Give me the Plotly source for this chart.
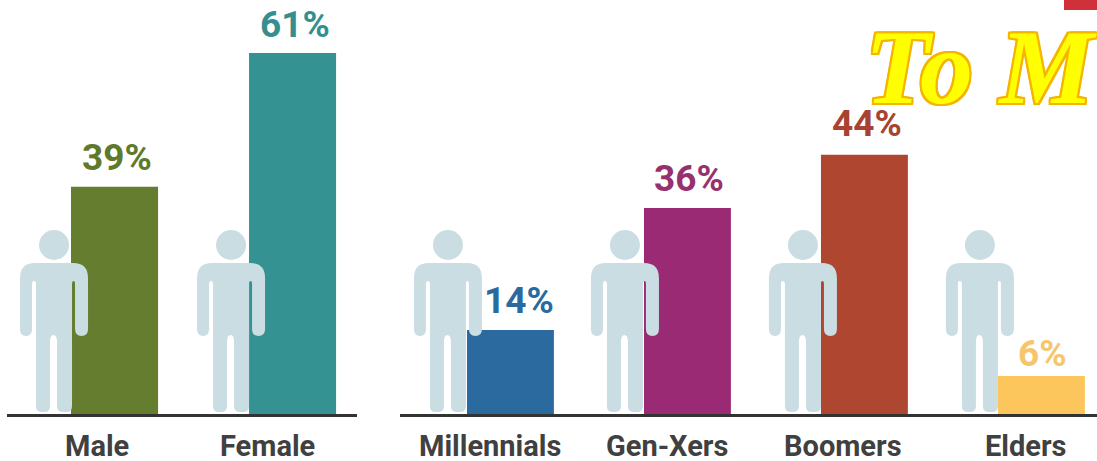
import plotly.graph_objects as go

W, H = 1097, 461
gender_cats = ["Male", "Female"]
gender_labels = ["39%", "61%"]
gender_heights = [38.4, 61.0]
gender_colors = ["#647d2f", "#359292"]
gender_label_colors = ["#5f7a2c", "#358f8f"]

age_cats = ["Millennials", "Gen-Xers", "Boomers", "Elders"]
age_labels = ["14%", "36%", "44%", "6%"]
age_heights = [14.2, 34.8, 43.8, 6.4]
age_colors = ["#2a6a9e", "#9b2a75", "#ae4630", "#fcc65c"]
age_label_colors = ["#2a6a9e", "#97306f", "#a8432f", "#f6c66c"]

cat_shift_gender = [-18, -25]
cat_shift_age = [-20, -20, -21, -15]
pct_shift_gender = [2.5, 2.5]
pct_shift_age = [8.5, 1.5, 2.5, 1]
pct_lift_gender = [7, 6]
pct_lift_age = [7, 7, 9, 0]
icon_shift_gender = [-60.5, -61.5]
icon_shift_age = [-62.5, -62.5, -61.5, -61.5]

FONT = "Roboto, sans-serif"
ICON = "#c9dde3"
TEXT = "#404040"
BASE = 414
PX_PER_UNIT = 5.918

fig = go.Figure()
fig.add_trace(go.Bar(x=gender_cats, y=gender_heights, marker_color=gender_colors,
                     marker_line_width=0, width=0.489, xaxis="x", yaxis="y"))
fig.add_trace(go.Bar(x=age_cats, y=age_heights, marker_color=age_colors,
                     marker_line_width=0, width=0.491, xaxis="x2", yaxis="y2"))

annotations = []
shapes = []

# person pictogram: pixels relative to (head axis, baseline), y up
BODY = ("M -34 136 Q -34 151 -19 151 L 19 151 Q 34 151 34 136 L 34 85 Q 34 78 27.5 78 Q 21 78 21 85 "
        "L 21 130 Q 21 133 19.5 133 Q 18 133 18 130 L 18 8 Q 18 2 12 2 L 9 2 Q 3 2 3 8 L 3 72 "
        "Q 3 79 -0.5 79 Q -4 79 -4 72 L -4 8 Q -4 2 -10 2 L -12 2 Q -18 2 -18 8 L -18 130 "
        "Q -18 133 -20 133 Q -22 133 -22 130 L -22 85 Q -22 78 -28 78 Q -34 78 -34 85 Z")


def shift_path(path, dx):
    out, is_x = [], True
    for t in path.split():
        if t.isalpha():
            out.append(t)
            is_x = True
        else:
            out.append(str(float(t) + dx) if is_x else t)
            is_x = not is_x
    return " ".join(out)


def add_group(cats, heights, labels, label_colors, cat_shift, pct_shift, pct_lift, icon_shift, xr, yr):
    for i, c in enumerate(cats):
        annotations.append(dict(x=c, y=heights[i], xref=xr, yref=yr, text=labels[i], showarrow=False,
                                yanchor="bottom", xshift=pct_shift[i], yshift=pct_lift[i], borderpad=0,
                                font=dict(family=FONT, size=37, color=label_colors[i], weight="bold")))
        annotations.append(dict(x=c, y=0, xref=xr, yref=yr, text=c, showarrow=False, yanchor="top",
                                xshift=cat_shift[i], yshift=-14, borderpad=0, height=33, valign="top",
                                font=dict(family=FONT, size=29, color=TEXT, weight="bold")))
        common = dict(xref=xr, yref=yr, xsizemode="pixel", ysizemode="pixel",
                      xanchor=c, yanchor=0, fillcolor=ICON, line_width=0, layer="above")
        dx = icon_shift[i]
        shapes.append(dict(type="path", path=shift_path(BODY, dx), **common))
        shapes.append(dict(type="circle", x0=dx - 15, x1=dx + 15, y0=154, y1=184, **common))


add_group(gender_cats, gender_heights, gender_labels, gender_label_colors,
          cat_shift_gender, pct_shift_gender, pct_lift_gender, icon_shift_gender, "x", "y")
add_group(age_cats, age_heights, age_labels, age_label_colors,
          cat_shift_age, pct_shift_age, pct_lift_age, icon_shift_age, "x2", "y2")

shapes.append(dict(type="rect", xref="paper", yref="paper", x0=1064 / W, x1=1, y0=1 - 10 / H, y1=1,
                   fillcolor="#d0303a", line_width=0))

outline = ", ".join(f"{a}px {b}px 0 #f5b400" for a in (-2, 0, 2) for b in (-2, 0, 2))
annotations.append(dict(x=864 / W, y=1 - 110 / H, xref="paper", yref="paper", text="To M", showarrow=False,
                        xanchor="left", yanchor="bottom", height=84, valign="middle", borderpad=0,
                        font=dict(family="Liberation Serif", size=106, color="#ffff00", weight="bold",
                                  style="italic", shadow=outline)))

ymax = BASE / PX_PER_UNIT
ydom = [1 - BASE / H, 1]
axis_common = dict(showgrid=False, zeroline=False, showline=True, linecolor="#333333", linewidth=3,
                   ticks="", showticklabels=False, fixedrange=True)
y_common = dict(range=[0, ymax], domain=ydom, visible=False, fixedrange=True)
fig.update_layout(
    width=W, height=H, margin=dict(l=0, r=0, t=0, b=0), autosize=False,
    paper_bgcolor="white", plot_bgcolor="white", showlegend=False,
    xaxis=dict(domain=[7 / W, 357 / W], range=[-0.604, 1.362], type="category", **axis_common),
    xaxis2=dict(domain=[400 / W, 1], range=[-0.624, 3.314], type="category", **axis_common),
    yaxis=dict(anchor="x", **y_common),
    yaxis2=dict(anchor="x2", **y_common),
    annotations=annotations, shapes=shapes,
)
fig.write_html("out.html", config=dict(displayModeBar=False),
               post_script="document.body.style.margin='0';")
